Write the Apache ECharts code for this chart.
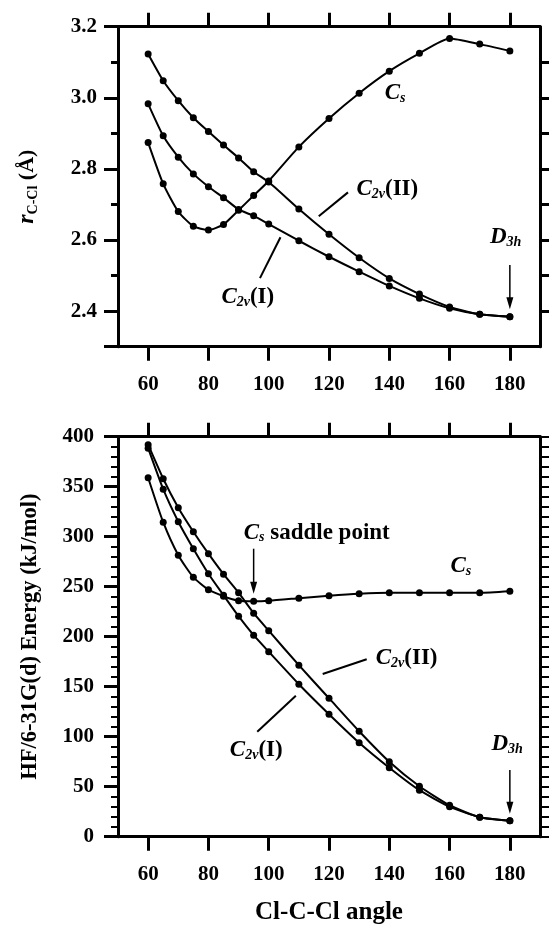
<!DOCTYPE html>
<html>
<head>
<meta charset="utf-8">
<script src="https://cdn.jsdelivr.net/npm/echarts@6/dist/echarts.min.js"></script>
<style>
  html, body { margin: 0; padding: 0; background: #fff; }
  #chart { width: 549px; height: 930px; }
</style>
</head>
<body>
<div id="chart"></div>
<script>
// Cl-C-Cl bending angle (degrees)
const angles = [60, 65, 70, 75, 80, 85, 90, 95, 100, 110, 120, 130, 140, 150, 160, 170, 180];

// C-Cl distance (Å)
const rC2vII = [3.123, 3.048, 2.992, 2.944, 2.905, 2.867, 2.831, 2.792, 2.763, 2.687, 2.616, 2.550, 2.492, 2.448, 2.412, 2.391, 2.384];
const rC2vI  = [2.983, 2.893, 2.833, 2.786, 2.750, 2.719, 2.686, 2.668, 2.645, 2.598, 2.553, 2.511, 2.471, 2.436, 2.408, 2.391, 2.384];
const rCs    = [2.874, 2.758, 2.680, 2.639, 2.628, 2.644, 2.684, 2.725, 2.766, 2.862, 2.942, 3.013, 3.075, 3.125, 3.167, 3.151, 3.132];

// HF/6-31G(d) energy (kJ/mol)
const eC2vII = [392, 358, 329, 305, 283, 262.5, 244, 223.5, 206, 171.5, 138.5, 105.5, 75, 50.5, 31.5, 19.5, 16];
const eC2vI  = [388.5, 347.5, 315, 288, 263, 241.5, 220.5, 201.5, 185, 152.5, 122.5, 94, 69, 46.5, 30, 19.5, 16];
const eCs    = [359, 314.5, 281.5, 259.5, 247, 240.5, 236, 235.5, 236, 238.5, 241, 243, 244, 244, 244, 244, 245.5];

// Tick values
const angleTicks = [60, 80, 100, 120, 140, 160, 180];
const rLabels = [2.4, 2.6, 2.8, 3.0, 3.2];
const rMajorTicks = [2.3, 2.4, 2.6, 2.8, 3.0, 3.2];
const rMinorTicks = [2.5, 2.7, 2.9, 3.1];
const rRightTicks = [2.4, 2.5, 2.6, 2.7, 2.8, 2.9, 3.0, 3.1];

const FONT = 'Liberation Serif';
const BLACK = '#000';

const chart = echarts.init(document.getElementById('chart'), null, { renderer: 'canvas' });

const pairs = (ys) => angles.map((a, i) => [a, ys[i]]);

const frameLine = { show: true, onZero: false, lineStyle: { color: BLACK, width: 3 } };
const tickLabel = { fontFamily: FONT, fontWeight: 'bold', fontSize: 21, color: BLACK };

function angleAxes(grid, name) {
  const bottom = {
    type: 'value', gridIndex: grid, position: 'bottom', min: 50, max: 190,
    axisLine: frameLine,
    axisTick: { show: true, length: 14, lineStyle: { color: BLACK, width: 3 }, customValues: angleTicks },
    axisLabel: { customValues: angleTicks, margin: 27, ...tickLabel },
    splitLine: { show: false }
  };
  if (name) {
    bottom.name = name;
    bottom.nameLocation = 'middle';
    bottom.nameGap = 63;
    bottom.nameTextStyle = { fontFamily: FONT, fontWeight: 'bold', fontSize: 25, color: BLACK };
  }
  const top = {
    type: 'value', gridIndex: grid, position: 'top', min: 50, max: 190,
    axisLine: frameLine,
    axisTick: { show: true, length: 14, lineStyle: { color: BLACK, width: 3 }, customValues: angleTicks },
    axisLabel: { show: false },
    splitLine: { show: false }
  };
  return [bottom, top];
}

function lineSeries(x, y, data) {
  return {
    type: 'line', xAxisIndex: x, yAxisIndex: y, data: data,
    smooth: 0.2,
    symbol: 'circle', symbolSize: 7, showSymbol: true,
    lineStyle: { color: BLACK, width: 2 }, itemStyle: { color: BLACK },
    silent: true, animation: false
  };
}

const option = {
  backgroundColor: '#fff',
  animation: false,
  grid: [
    { left: 118, top: 26.7, width: 422, height: 320, outerBoundsMode: 'none', containLabel: false },
    { left: 118, top: 436.7, width: 422, height: 400, outerBoundsMode: 'none', containLabel: false }
  ],
  xAxis: [
    ...angleAxes(0, null),
    ...angleAxes(1, 'Cl-C-Cl angle')
  ],
  yAxis: [
    // 0: distance, left, labelled
    {
      type: 'value', gridIndex: 0, position: 'left', min: 2.3, max: 3.2,
      axisLine: frameLine,
      axisTick: { show: true, length: 14, lineStyle: { color: BLACK, width: 3 }, customValues: rMajorTicks },
      axisLabel: { customValues: rLabels, margin: 21, formatter: v => v.toFixed(1), ...tickLabel },
      splitLine: { show: false },
      name: '{r|r}{s|C-Cl}{u| (Å)}',
      nameLocation: 'middle', nameRotate: 90, nameGap: 78,
      nameTextStyle: {
        rich: {
          r: { fontFamily: FONT, fontStyle: 'italic', fontWeight: 'bold', fontSize: 24, lineHeight: 26, color: BLACK },
          s: { fontFamily: FONT, fontWeight: 'bold', fontSize: 14, lineHeight: 12, verticalAlign: 'bottom', color: BLACK },
          u: { fontFamily: FONT, fontWeight: 'bold', fontSize: 22, lineHeight: 26, color: BLACK }
        }
      }
    },
    // 1: distance, left, short ticks
    {
      type: 'value', gridIndex: 0, position: 'left', min: 2.3, max: 3.2,
      axisLine: { show: false },
      axisTick: { show: true, length: 7, lineStyle: { color: BLACK, width: 3 }, customValues: rMinorTicks },
      axisLabel: { show: false },
      splitLine: { show: false }
    },
    // 2: distance, right frame
    {
      type: 'value', gridIndex: 0, position: 'right', min: 2.3, max: 3.2,
      axisLine: frameLine,
      axisTick: { show: true, length: 10, lineStyle: { color: BLACK, width: 3 }, customValues: rRightTicks },
      axisLabel: { show: false },
      splitLine: { show: false }
    },
    // 3: energy, left, labelled
    {
      type: 'value', gridIndex: 1, position: 'left', min: 0, max: 400, interval: 50,
      axisLine: frameLine,
      axisTick: { show: true, length: 14, lineStyle: { color: BLACK, width: 3 } },
      minorTick: { show: true, splitNumber: 5, length: 7, lineStyle: { color: BLACK, width: 2 } },
      axisLabel: { margin: 24, ...tickLabel },
      splitLine: { show: false },
      name: 'HF/6-31G(d) Energy (kJ/mol)',
      nameLocation: 'middle', nameRotate: 90, nameGap: 76,
      nameTextStyle: { fontFamily: FONT, fontWeight: 'bold', fontSize: 22.5, color: BLACK }
    },
    // 4: energy, right frame
    {
      type: 'value', gridIndex: 1, position: 'right', min: 0, max: 400, interval: 10,
      axisLine: frameLine,
      axisTick: { show: true, length: 10, lineStyle: { color: BLACK, width: 2 } },
      axisLabel: { show: false },
      splitLine: { show: false }
    }
  ],
  series: [
    lineSeries(0, 0, pairs(rC2vII)),
    lineSeries(0, 0, pairs(rC2vI)),
    lineSeries(0, 0, pairs(rCs)),
    lineSeries(2, 3, pairs(eC2vII)),
    lineSeries(2, 3, pairs(eC2vI)),
    lineSeries(2, 3, pairs(eCs))
  ]
};

chart.setOption(option);

// ---- annotations, placed in data coordinates of each panel ----
const rich = {
  c: { fontFamily: FONT, fontStyle: 'italic', fontWeight: 'bold', fontSize: 23, lineHeight: 24, fill: BLACK },
  b: { fontFamily: FONT, fontStyle: 'italic', fontWeight: 'bold', fontSize: 14, lineHeight: 10, verticalAlign: 'bottom', fill: BLACK },
  u: { fontFamily: FONT, fontWeight: 'bold', fontSize: 23, lineHeight: 24, fill: BLACK }
};

const toPx = (grid, x, y) => chart.convertToPixel({ gridIndex: grid }, [x, y]);

function label(grid, x, y, text) {
  const p = toPx(grid, x, y);
  return { type: 'text', x: p[0], y: p[1], silent: true, z: 10,
           style: { text: text, rich: rich, align: 'left', verticalAlign: 'middle' } };
}
function leader(grid, x1, y1, x2, y2) {
  const a = toPx(grid, x1, y1), b = toPx(grid, x2, y2);
  return { type: 'line', silent: true, z: 10,
           shape: { x1: a[0], y1: a[1], x2: b[0], y2: b[1] },
           style: { stroke: BLACK, lineWidth: 2 } };
}
function arrow(grid, x, yFrom, yTo) {
  const a = toPx(grid, x, yFrom), b = toPx(grid, x, yTo);
  return [
    { type: 'line', silent: true, z: 10,
      shape: { x1: a[0], y1: a[1], x2: b[0], y2: b[1] - 10 },
      style: { stroke: BLACK, lineWidth: 1.5 } },
    { type: 'polygon', silent: true, z: 10,
      shape: { points: [[b[0] - 3.5, b[1] - 12], [b[0] + 3.5, b[1] - 12], [b[0], b[1]]] },
      style: { fill: BLACK } }
  ];
}

const cs = '{c|C}{b|s}';
const c2vII = '{c|C}{b|2v}{u|(II)}';
const c2vI = '{c|C}{b|2v}{u|(I)}';
const d3h = '{c|D}{b|3h}';

const elements = [
  // distance panel
  label(0, 138.5, 3.013, cs),
  label(0, 129.1, 2.742, c2vII),
  leader(0, 126.3, 2.734, 116.6, 2.667),
  label(0, 84.3, 2.440, c2vI),
  leader(0, 97.1, 2.493, 103.9, 2.608),
  label(0, 173.4, 2.608, d3h),
  ...arrow(0, 180, 2.530, 2.405),
  // energy panel
  label(1, 91.7, 304, cs + '{u| saddle point}'),
  ...arrow(1, 95, 288, 243),
  label(1, 160.3, 270.7, cs),
  label(1, 135.5, 178.7, c2vII),
  leader(1, 132.5, 177.4, 117.9, 162.7),
  label(1, 87.1, 86.7, c2vI),
  leader(1, 96.2, 105, 109.0, 141),
  label(1, 173.9, 92.7, d3h),
  ...arrow(1, 180, 66.7, 23)
];

chart.setOption({ graphic: { elements: elements } });
</script>
</body>
</html>
